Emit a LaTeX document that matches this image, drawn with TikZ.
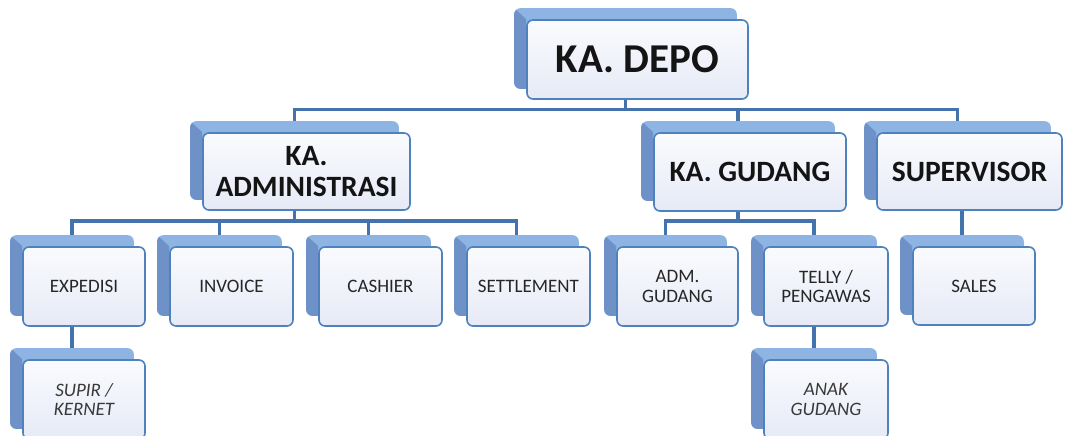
\documentclass[tikz,border=0pt]{standalone}
\usepackage{fontspec}
\setmainfont{Carlito}
\pgfdeclarelayer{bg}
\pgfdeclarelayer{conn}
\pgfdeclarelayer{backl}
\pgfsetlayers{bg,conn,backl,main}
\definecolor{edgeblue}{HTML}{4F81BD}
\definecolor{linkblue}{HTML}{4472AC}
\definecolor{backlight}{HTML}{8DB4E3}
\definecolor{backdark}{HTML}{6E91C8}
\definecolor{fronttop}{HTML}{FAFBFE}
\definecolor{frontbot}{HTML}{E6EAF6}
\tikzset{
  orgbox/.style={draw=edgeblue, line width=1.6pt, rounded corners=6pt,
    top color=fronttop, bottom color=frontbot, align=center, inner sep=0pt,
    text=black!92},
  lvlone/.style={orgbox, font=\fontsize{41}{44}\selectfont\bfseries},
  lvltwo/.style={orgbox, font=\fontsize{29.5}{31}\selectfont\bfseries},
  lvlthree/.style={orgbox, font=\fontsize{19}{19.5}\selectfont, text=black!85},
  lvlfour/.style={orgbox, font=\fontsize{19}{19.5}\selectfont\itshape, text=black!78},
  link/.style={draw=linkblue, line width=3.3pt},
}
% name, x1, y1, x2, y2, style, text
\newcommand\orgunit[7]{%
  \node[#6, minimum width={#4-#2}, minimum height={#5-#3}] (#1)
    at ({(#2+#4)/2},{(#3+#5)/2}) {#7};
  \coordinate (#1-t) at ([xshift=-12pt,yshift=11pt]#1.north);
  \coordinate (#1-b) at ([xshift=-12pt]#1.south);
  \begin{pgfonlayer}{backl}
    \fill[backlight, rounded corners=6pt]
      ([xshift=-12pt,yshift=11pt]#1.south west) rectangle ([xshift=-12pt,yshift=11pt]#1.north east);
    \begin{scope}
      \clip[rounded corners=6pt]
        ([xshift=-12pt,yshift=11pt]#1.south west) rectangle ([xshift=-12pt,yshift=11pt]#1.north east);
      \fill[backdark] ([xshift=-12pt,yshift=11pt]#1.north west) -- (#1.north west)
        -- ([yshift=11pt]#1.south west) -- ([xshift=-12pt,yshift=11pt]#1.south west) -- cycle;
    \end{scope}
  \end{pgfonlayer}}
\begin{document}
\begin{tikzpicture}[x=1pt,y=-1pt]
\useasboundingbox (0,0) rectangle (1065,436);
\begin{pgfonlayer}{bg}
  \fill[white] (0,0) rectangle (1065,436);
\end{pgfonlayer}
\coordinate (bus1) at (0,109.5);
\coordinate (bus2) at (0,221);
\orgunit{depo}{527}{20}{748}{99}{lvlone}{KA. DEPO}
\orgunit{admin}{203}{133}{410}{210}{lvltwo}{KA.\\ADMINISTRASI}
\orgunit{gudang}{654}{133}{846}{211}{lvltwo}{KA. GUDANG}
\orgunit{super}{877}{133}{1062}{210}{lvltwo}{SUPERVISOR}
\orgunit{exped}{23}{247}{145}{326}{lvlthree}{EXPEDISI}
\orgunit{invoice}{170}{247}{293}{326}{lvlthree}{INVOICE}
\orgunit{cashier}{319}{247}{442}{326}{lvlthree}{CASHIER}
\orgunit{settle}{467}{247}{590}{326}{lvlthree}{SETTLEMENT}
\orgunit{admg}{617}{247}{738}{326}{lvlthree}{ADM.\\GUDANG}
\orgunit{telly}{764}{247}{888}{326}{lvlthree}{TELLY /\\PENGAWAS}
\orgunit{sales}{913}{247}{1035}{325}{lvlthree}{SALES}
\orgunit{supir}{23}{360}{145}{439}{lvlfour}{SUPIR /\\KERNET}
\orgunit{anak}{764}{360}{888}{439}{lvlfour}{ANAK\\GUDANG}
\begin{pgfonlayer}{conn}
  \draw[link] (depo-b) -- (depo-b |- bus1) -| (admin-t);
  \draw[link] (depo-b) -- (depo-b |- bus1) -| (gudang-t);
  \draw[link] (depo-b) -- (depo-b |- bus1) -| (super-t);
  \draw[link] (admin-b) -- (admin-b |- bus2) -| (exped-t);
  \draw[link] (admin-b) -- (admin-b |- bus2) -| (invoice-t);
  \draw[link] (admin-b) -- (admin-b |- bus2) -| (cashier-t);
  \draw[link] (admin-b) -- (admin-b |- bus2) -| (settle-t);
  \draw[link] (gudang-b) -- (gudang-b |- bus2) -| (admg-t);
  \draw[link] (gudang-b) -- (gudang-b |- bus2) -| (telly-t);
  \draw[link] (sales-t |- super.south) -- (sales-t);
  \draw[link] (exped-b) -- (supir-t);
  \draw[link] (telly-b) -- (anak-t);
\end{pgfonlayer}
\end{tikzpicture}
\end{document}
